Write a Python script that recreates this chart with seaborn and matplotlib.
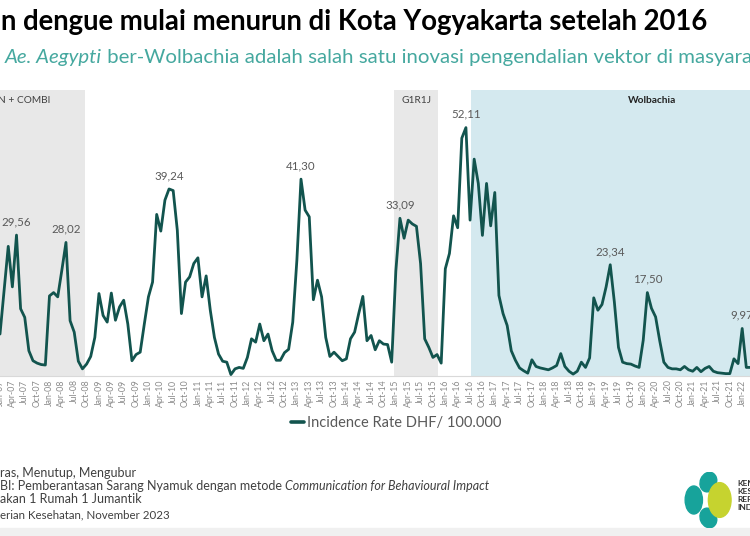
import numpy as np
import pandas as pd
import matplotlib
matplotlib.use("Agg")
import matplotlib.pyplot as plt
import seaborn as sns
from matplotlib.patches import Ellipse, Rectangle

# monthly incidence rate DHF per 100.000, from Jan-07 onward
ir_values = [
    8.8, 18.0, 27.2, 18.7, 29.56, 14.1, 12.3, 5.3, 3.2, 2.7, 2.4, 2.3,
    16.8, 17.5, 16.6, 22.2, 28.02, 11.6, 9.2, 3.1, 1.5, 2.5, 4.1, 8.1,
    17.3, 12.7, 11.3, 17.4, 11.7, 14.5, 15.9, 10.9, 3.2, 4.5, 5.0, 10.9,
    16.6, 19.7, 33.9, 30.4, 36.9, 39.24, 38.9, 30.6, 13.1, 19.7, 20.8, 23.6,
    24.8, 16.6, 21.0, 13.8, 8.1, 4.6, 3.1, 2.9, 0.3, 1.5, 1.8, 1.6,
    3.9, 7.8, 7.1, 10.9, 7.4, 8.8, 5.3, 3.3, 3.3, 4.9, 5.6, 11.3,
    24.3, 41.30, 34.8, 33.4, 16.0, 20.1, 16.6, 8.1, 4.1, 5.0, 4.1, 3.2,
    3.6, 7.8, 9.2, 13.1, 16.7, 7.4, 8.5, 5.5, 7.4, 6.7, 6.6, 2.9,
    22.0, 33.09, 28.9, 32.7, 31.9, 31.4, 23.6, 7.8, 6.0, 3.9, 4.5, 2.7,
    22.5, 25.7, 33.6, 31.1, 49.9, 52.11, 32.7, 45.5, 40.4, 29.5, 40.4, 31.5,
    38.5, 16.9, 13.1, 10.6, 5.3, 3.3, 1.7, 1.1, 0.6, 3.4, 2.0, 1.7,
    1.5, 1.3, 1.7, 2.2, 4.7, 2.0, 1.0, 0.4, 1.0, 2.9, 1.8, 3.8,
    16.4, 13.8, 15.0, 18.7, 23.34, 15.5, 6.0, 2.9, 2.6, 2.5, 2.1, 1.8,
    7.5, 17.50, 14.2, 12.4, 7.4, 2.9, 1.8, 1.5, 1.5, 1.3, 2.0, 1.3,
    1.0, 1.8, 0.9, 1.6, 2.0, 1.0, 0.7, 0.6, 0.5, 0.5, 3.6, 2.6,
    9.97, 1.8, 1.8,
]
months = pd.date_range("2007-01-01", periods=len(ir_values), freq="MS")

# peaks that carry a data label (month index)
peak_idx = [4, 16, 41, 73, 97, 113, 148, 157, 180]

# intervention periods (month index, 0 = Jan-07)
band_names = ["N + COMBI", "G1R1J", "Wolbachia"]
band_start = [-6.0, 95.6, 114.3]
band_end = [20.7, 106.3, 202.0]

legend_label = "Incidence Rate DHF/ 100.000"
title = "n dengue mulai menurun di Kota Yogyakarta setelah 2016"
sub_italic = "Ae. Aegypti"
sub_rest = " ber-Wolbachia adalah salah satu inovasi pengendalian vektor di masyarakat"
notes = [
    "ras, Menutup, Mengubur",
    "BI: Pemberantasan Sarang Nyamuk dengan metode ",
    "akan 1 Rumah 1 Jumantik",
    "erian Kesehatan, November 2023",
]
note_italic = "Communication for Behavioural Impact"
logo_words = ["KEMENTERIAN", "KESEHATAN", "REPUBLIK", "INDONESIA"]

df = pd.DataFrame({"m": np.arange(len(ir_values)), "ir": ir_values})
tick_pos = df["m"][::3].tolist()
tick_labels = [d.strftime("%b-%y") for d in months[::3]]

sns.set_theme(style="white")
plt.rcParams["font.family"] = ["Lato", "DejaVu Sans"]

W, H = 750, 536
PXM = 4.126  # pixels per month
fig = plt.figure(figsize=(7.5, 5.36), dpi=100)
renderer = fig.canvas.get_renderer()

ax_top, ax_bot = 90, 376
ax = fig.add_axes([0, 1 - ax_bot / H, 1, (ax_bot - ax_top) / H])
ax.set_xlim(0.5 / PXM, 750.5 / PXM)
ax.set_ylim(0, 60)

band_cols = ["#e8e8e8", "#e8e8e8", "#d4e9ef"]
for s, e, c in zip(band_start, band_end, band_cols):
    ax.axvspan(s, e, color=c, lw=0, zorder=0)
ax.text(-0.4, 0.965, band_names[0], transform=ax.get_xaxis_transform(),
        ha="left", va="center", fontsize=7.3, color="#404040")
ax.text((band_start[1] + band_end[1]) / 2, 0.965, band_names[1],
        transform=ax.get_xaxis_transform(), ha="center", va="center",
        fontsize=7.3, color="#404040")
ax.text((band_start[2] + band_end[2]) / 2, 0.965, band_names[2],
        transform=ax.get_xaxis_transform(), ha="center", va="center",
        fontsize=7.3, fontweight="bold", color="#222222")

sns.lineplot(data=df, x="m", y="ir", ax=ax, color="#12544e", lw=2.0,
             label=legend_label, zorder=3)

for i in peak_idx:
    v = ir_values[i]
    ax.annotate(f"{v:.2f}".replace(".", ","), (i, v), xytext=(0, 9.5),
                textcoords="offset points", ha="center", va="center",
                fontsize=8.3, color="#595959", annotation_clip=False)

ax.set_xticks(tick_pos)
ax.set_xticklabels(tick_labels, rotation=90, fontsize=6.3, color="#8a8a8a")
ax.tick_params(axis="x", length=0, pad=2.5)
ax.set_yticks([])
ax.set_xlabel("")
ax.set_ylabel("")
for side in ["top", "left", "right"]:
    ax.spines[side].set_visible(False)
ax.spines["bottom"].set_color("#d9d9d9")
ax.spines["bottom"].set_linewidth(0.8)

leg = ax.legend(loc="center", bbox_to_anchor=(396 / W, 1 - 423 / H),
                bbox_transform=fig.transFigure, frameon=False,
                handlelength=0.9, handletextpad=0.2, fontsize=10.5)
for t in leg.get_texts():
    t.set_color("#595959")
for ln in leg.get_lines():
    ln.set_linewidth(2.6)


def fit(t, width_px):
    bb = t.get_window_extent(renderer)
    t.set_fontsize(t.get_fontsize() * width_px / bb.width)


# title
tt = fig.text(1 / W, 1 - 22 / H, title, ha="left", va="center",
              fontsize=18, fontweight="bold", color="black")
fit(tt, 711)

# subtitle: italic species name then regular text, cut by the right edge
s1 = fig.text(5 / W, 1 - 58 / H, sub_italic, ha="left", va="center",
              fontsize=12, fontstyle="italic", color="#45a89f")
s2 = fig.text(0, 1 - 58 / H, sub_rest[:sub_rest.index("masyara") + 7],
              ha="left", va="center", fontsize=12, color="#45a89f")
w_tot = s1.get_window_extent(renderer).width + s2.get_window_extent(renderer).width
k = 745 / w_tot
s1.set_fontsize(12 * k)
s2.set_fontsize(12 * k)
s2.set_x(s1.get_window_extent(renderer).x1 / W)
s2.set_text(sub_rest)

# footnotes
note_y = [473, 486, 499, 515]
n2a = fig.text(0, 1 - note_y[1] / H, notes[1], ha="left", va="center",
               fontsize=8, color="#404040")
n2b = fig.text(0, 1 - note_y[1] / H, note_italic, ha="left", va="center",
               fontsize=8, fontstyle="italic", color="#404040")
w_tot = n2a.get_window_extent(renderer).width + n2b.get_window_extent(renderer).width
fs_note = 8 * 492 / w_tot
n2a.set_fontsize(fs_note)
n2b.set_fontsize(fs_note)
n2b.set_x(n2a.get_window_extent(renderer).x1 / W)
for j in [0, 2, 3]:
    fig.text(0, 1 - note_y[j] / H, notes[j], ha="left", va="center",
             fontsize=fs_note * (0.92 if j == 3 else 1), color="#404040")

# ministry logo (bottom right)
lg = fig.add_axes([683 / W, 1 - 528 / H, 54 / W, 56 / H])
lg.set_xlim(0, 1)
lg.set_ylim(0, 1)
lg.axis("off")
lg.add_patch(Ellipse((0.2, 0.5), 0.32, 0.5, color="#17a39b"))
lg.add_patch(Ellipse((0.47, 0.82), 0.3, 0.36, angle=-25, color="#17a39b"))
lg.add_patch(Ellipse((0.47, 0.18), 0.3, 0.36, angle=25, color="#17a39b"))
lg.add_patch(Ellipse((0.68, 0.5), 0.42, 0.62, color="#c6d32f"))
for j, word in enumerate(logo_words):
    fig.text(737 / W, 1 - (484 + 8 * j) / H, word, ha="left", va="center",
             fontsize=6.0, fontweight="bold", color="#333333")

fig.patches.append(Rectangle((0, 0), 1, 8 / H, transform=fig.transFigure,
                             color="#f0f0f0", zorder=-1))

fig.savefig("out.png", dpi=100)
